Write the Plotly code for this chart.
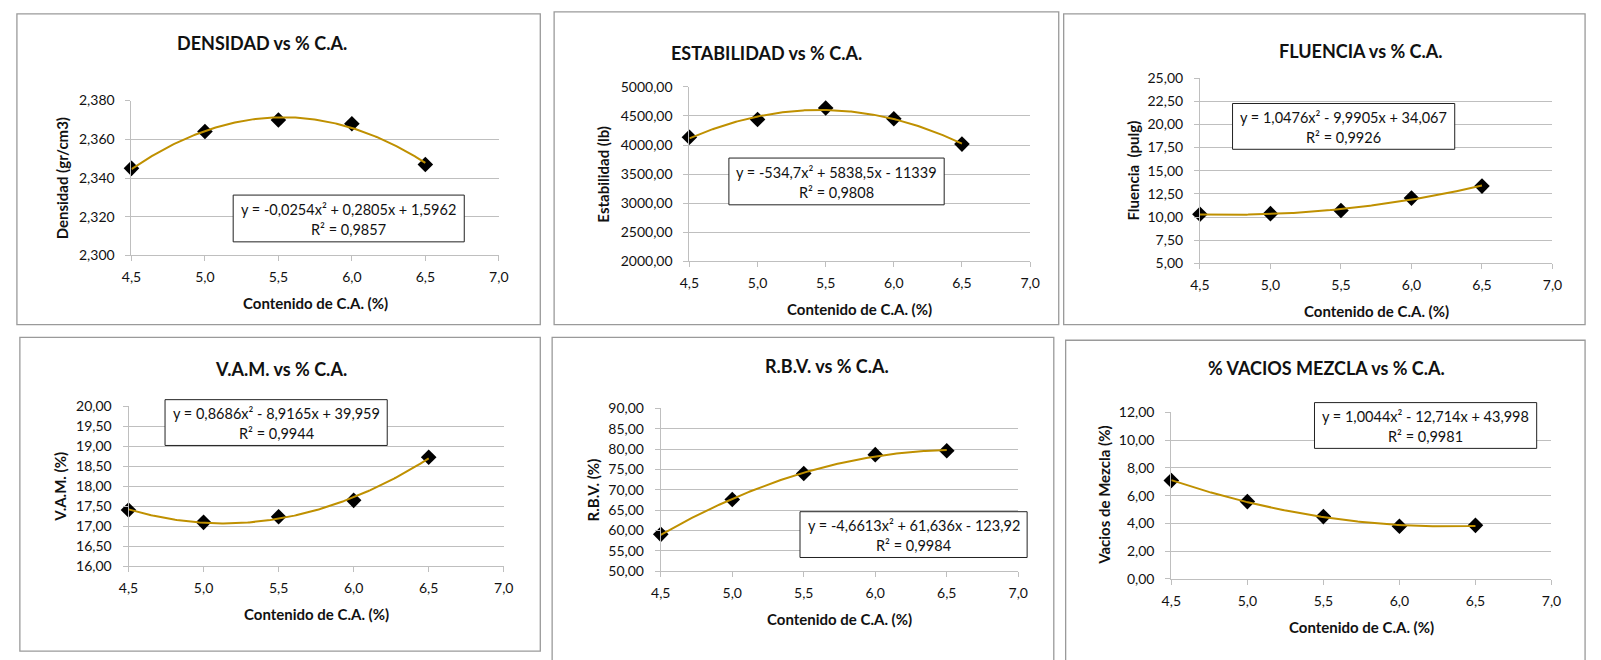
import numpy as np
import plotly.graph_objects as go

W, H = 1601, 660

# ---------------- data ----------------
ca = [4.5, 5.0, 5.5, 6.0, 6.5]
densidad = [2.345, 2.364, 2.370, 2.368, 2.347]
estabilidad = [4134, 4441, 4637, 4453, 4017]
fluencia = [10.29, 10.36, 10.71, 12.04, 13.34]
vam = [17.41, 17.10, 17.24, 17.65, 18.73]
rbv = [59.04, 67.60, 74.00, 78.64, 79.60]
vacios = [7.09, 5.57, 4.49, 3.79, 3.86]

titles = ["DENSIDAD vs % C.A.", "ESTABILIDAD vs % C.A.", "FLUENCIA vs % C.A.",
          "V.A.M. vs % C.A.", "R.B.V. vs % C.A.", "% VACIOS MEZCLA vs % C.A."]
y_titles = ["Densidad (gr/cm3)", "Estabilidad (lb)", "Fluencia  (pulg)",
            "V.A.M. (%)", "R.B.V. (%)", "Vacios de Mezcla (%)"]
x_title = "Contenido de C.A. (%)"
equations = ["y = -0,0254x² + 0,2805x + 1,5962",
             "y = -534,7x² + 5838,5x - 11339",
             "y = 1,0476x² - 9,9905x + 34,067",
             "y = 0,8686x² - 8,9165x + 39,959",
             "y = -4,6613x² + 61,636x - 123,92",
             "y = 1,0044x² - 12,714x + 43,998"]
r_squared = ["R² = 0,9857", "R² = 0,9808", "R² = 0,9926",
             "R² = 0,9944", "R² = 0,9984", "R² = 0,9981"]
y_ranges = [(2.300, 2.380), (2000, 5000), (5, 25), (16, 20), (50, 90), (0, 12)]
y_dticks = [0.02, 500, 2.5, 0.5, 5, 2]
y_formats = [".3f", ".2f", ".2f", ".2f", ".2f", ".2f"]
x_range = (4.5, 7.0)
x_dtick = 0.5

series = [densidad, estabilidad, fluencia, vam, rbv, vacios]

# ---------------- layout geometry (pixels) ----------------
plots = [  # x0, x1, y0(top), y1(bottom)
    (123, 495, 94, 253),
    (688, 1033, 80, 259),
    (1205, 1562, 71, 261),
    (120, 500, 408, 572),
    (659, 1021, 410, 577),
    (1176, 1561, 414, 585),
]
borders = [
    (7, 5, 537, 324),
    (551, 3, 1062, 324),
    (1067, 5, 1595, 324),
    (10, 337, 537, 659),
    (549, 337, 1057, 670),
    (1069, 340, 1595, 670),
]
title_pos = [(255, 35), (766, 45), (1368, 43), (274, 370), (827, 366), (1333, 368)]
boxes = [
    (226, 191, 460, 239),
    (728, 153, 946, 201),
    (1238, 97, 1463, 144),
    (157, 401, 382, 448),
    (800, 516, 1030, 563),
    (1321, 404, 1546, 451),
]
ytitle_x = [53, 601, 1137, 51, 590, 1107]
xtitle_y = [302, 308, 310, 621, 626, 634]

FONT = "Lato"
GRID = "#bfbfbf"
TREND = "#BF9000"
TXT = "#111111"


def px(x):
    return x / W


def py(y):
    return 1 - y / H


fig = go.Figure()
shapes = []
annotations = []
layout_axes = {}

for i in range(6):
    n = i + 1
    xa = "x" if n == 1 else f"x{n}"
    ya = "y" if n == 1 else f"y{n}"
    x0, x1, t, b = plots[i]
    vals = series[i]

    fig.add_trace(go.Scatter(
        x=ca, y=vals, mode="markers", xaxis=xa, yaxis=ya,
        marker=dict(symbol="diamond", size=12, color="black"),
        cliponaxis=False, showlegend=False, hoverinfo="x+y"))

    coef = np.polyfit(ca, vals, 2)
    xs = np.linspace(ca[0], ca[-1], 200)
    fig.add_trace(go.Scatter(
        x=xs, y=np.polyval(coef, xs), mode="lines", xaxis=xa, yaxis=ya,
        line=dict(color=TREND, width=2), cliponaxis=False,
        showlegend=False, hoverinfo="skip"))

    layout_axes[f"xaxis{'' if n == 1 else n}"] = dict(
        domain=[px(x0), px(x1)], anchor=ya, range=list(x_range),
        dtick=x_dtick, tick0=4.5, tickformat=".1f", showgrid=False,
        zeroline=False, showline=True, linecolor=GRID, linewidth=1,
        ticks="outside", ticklen=5, tickcolor=GRID, tickwidth=1,
        ticklabelstandoff=4,
        tickfont=dict(family=FONT, size=14, color=TXT), fixedrange=True)
    layout_axes[f"yaxis{'' if n == 1 else n}"] = dict(
        domain=[py(b), py(t)], anchor=xa, range=list(y_ranges[i]),
        dtick=y_dticks[i], tick0=y_ranges[i][0], tickformat=y_formats[i],
        showgrid=True, gridcolor=GRID, gridwidth=1, zeroline=False,
        showline=True, linecolor=GRID, linewidth=1,
        ticks="outside", ticklen=5, tickcolor=GRID, tickwidth=1,
        ticklabelstandoff=8,
        tickfont=dict(family=FONT, size=14, color=TXT), fixedrange=True)

    # chart border
    bx0, by0, bx1, by1 = borders[i]
    shapes.append(dict(type="rect", xref="paper", yref="paper",
                       x0=px(bx0), x1=px(bx1), y0=py(by1), y1=py(by0),
                       line=dict(color="#9a9a9a", width=1.3),
                       fillcolor="rgba(0,0,0,0)", layer="below"))
    # equation box
    ex0, ey0, ex1, ey1 = boxes[i]
    shapes.append(dict(type="rect", xref="paper", yref="paper",
                       x0=px(ex0), x1=px(ex1), y0=py(ey1), y1=py(ey0),
                       line=dict(color="#222222", width=1),
                       fillcolor="white", layer="above"))
    cx = (ex0 + ex1) / 2
    h = ey1 - ey0
    annotations.append(dict(text=equations[i], xref="paper", yref="paper",
                            x=px(cx), y=py(ey0 + h * 0.30), xanchor="center",
                            yanchor="middle", showarrow=False,
                            font=dict(family=FONT, size=14.5, color=TXT)))
    annotations.append(dict(text=r_squared[i], xref="paper", yref="paper",
                            x=px(cx), y=py(ey0 + h * 0.74), xanchor="center",
                            yanchor="middle", showarrow=False,
                            font=dict(family=FONT, size=14.5, color=TXT)))
    # chart title
    tx, ty = title_pos[i]
    annotations.append(dict(text=f"<b>{titles[i]}</b>", xref="paper", yref="paper",
                            x=px(tx), y=py(ty), xanchor="center", yanchor="middle",
                            showarrow=False,
                            font=dict(family=FONT, size=18, color=TXT)))
    # axis titles
    annotations.append(dict(text=f"<b>{x_title}</b>", xref="paper", yref="paper",
                            x=px((x0 + x1) / 2), y=py(xtitle_y[i]),
                            xanchor="center", yanchor="middle", showarrow=False,
                            font=dict(family=FONT, size=15, color=TXT)))
    annotations.append(dict(text=f"<b>{y_titles[i]}</b>", xref="paper", yref="paper",
                            x=px(ytitle_x[i]), y=py((t + b) / 2), textangle=-90,
                            xanchor="center", yanchor="middle", showarrow=False,
                            font=dict(family=FONT, size=15, color=TXT)))

fig.update_layout(
    width=W, height=H, margin=dict(l=0, r=0, t=0, b=0),
    paper_bgcolor="white", plot_bgcolor="white",
    separators=",.", showlegend=False,
    font=dict(family=FONT, color=TXT),
    shapes=shapes, annotations=annotations,
    **layout_axes)

fig.write_html("out.html", config={"displayModeBar": False})

# make sure the page itself adds no offset around the figure
with open("out.html", "r", encoding="utf-8") as f:
    html = f.read()
html = html.replace("<body>", '<body style="margin:0;padding:0;overflow:hidden">', 1)
with open("out.html", "w", encoding="utf-8") as f:
    f.write(html)
